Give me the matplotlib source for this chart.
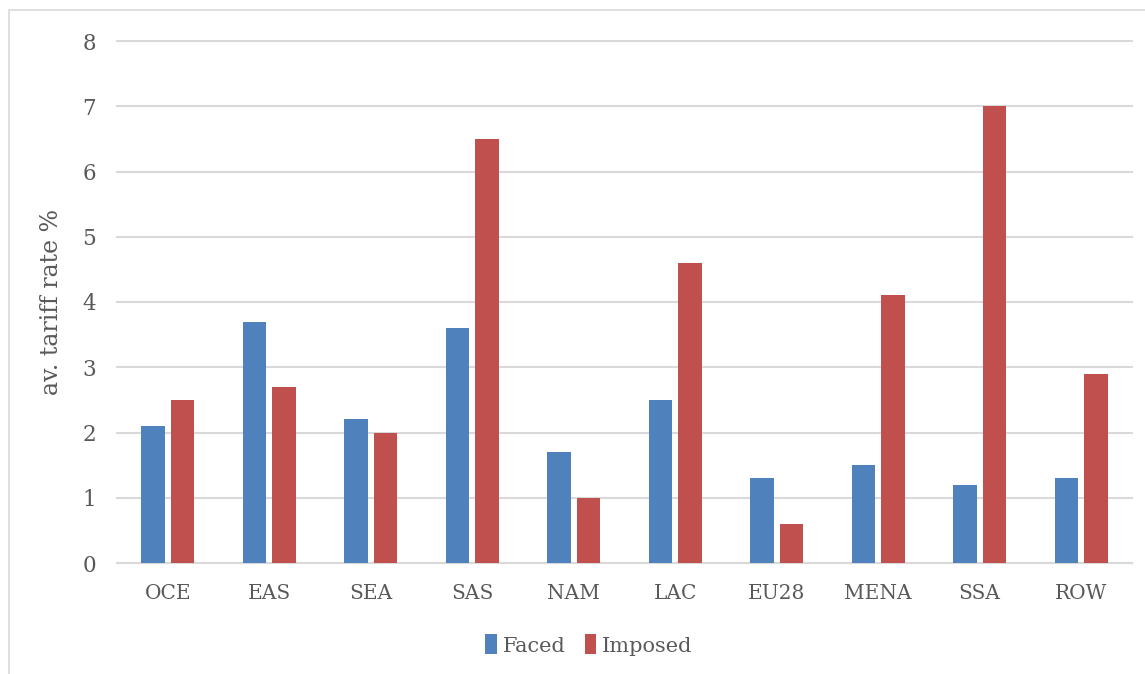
import matplotlib
matplotlib.use("Agg")
import matplotlib.pyplot as plt
from matplotlib.patches import Rectangle
import numpy as np

regions = ["OCE", "EAS", "SEA", "SAS", "NAM", "LAC", "EU28", "MENA", "SSA", "ROW"]
faced = [2.1, 3.7, 2.2, 3.6, 1.7, 2.5, 1.3, 1.5, 1.2, 1.3]
imposed = [2.5, 2.7, 2.0, 6.5, 1.0, 4.6, 0.6, 4.1, 7.0, 2.9]
y_ticks = [0, 1, 2, 3, 4, 5, 6, 7, 8]

BLUE = "#4F81BD"
RED = "#C0504D"
TEXT = "#595959"
GRID = "#D9D9D9"

plt.rcParams["font.family"] = ["DejaVu Serif"]

fig = plt.figure(figsize=(11.45, 6.74), dpi=100)
ax = fig.add_axes([117 / 1145, 1 - 563 / 674, (1132 - 117) / 1145, (563 - 41) / 674])

# light frame around the chart area
fig.patches.append(Rectangle((8.5 / 1145, -0.1), 1.2, 1 - 10.5 / 674 + 0.1,
                             transform=fig.transFigure, fill=False,
                             edgecolor=GRID, linewidth=1.2))

x = np.arange(len(regions))
w = 0.228
off = 0.145
ax.bar(x - off, faced, width=w, color=BLUE, label="Faced", zorder=3)
ax.bar(x + off, imposed, width=w, color=RED, label="Imposed", zorder=3)

ax.set_xlim(-0.5, len(regions) - 0.5)
ax.set_ylim(0, 8)
ax.set_yticks(y_ticks)
ax.set_yticklabels([str(t) for t in y_ticks])
ax.set_xticks(x)
ax.set_xticklabels(regions)
ax.yaxis.grid(True, color=GRID, linewidth=1.5, zorder=0)
for gl in ax.get_ygridlines():
    gl.set_clip_on(False)
ax.set_axisbelow(True)
for s in ["top", "right", "left"]:
    ax.spines[s].set_visible(False)
ax.spines["bottom"].set_color(GRID)
ax.spines["bottom"].set_linewidth(1.5)
ax.tick_params(axis="both", length=0, colors=TEXT)
ax.tick_params(axis="y", pad=15, labelsize=15.5)
ax.tick_params(axis="x", pad=15, labelsize=14.5)

ax.set_ylabel("av. tariff rate %", color=TEXT, fontsize=17, labelpad=14)

leg = fig.legend(loc="center", bbox_to_anchor=(589 / 1145, 1 - 645 / 674), ncol=2,
                 frameon=False, fontsize=15, handlelength=0.55, handleheight=1.1,
                 handletextpad=0.3, columnspacing=0.9)
for t in leg.get_texts():
    t.set_color(TEXT)

fig.savefig("out.png", dpi=100, facecolor="white")
